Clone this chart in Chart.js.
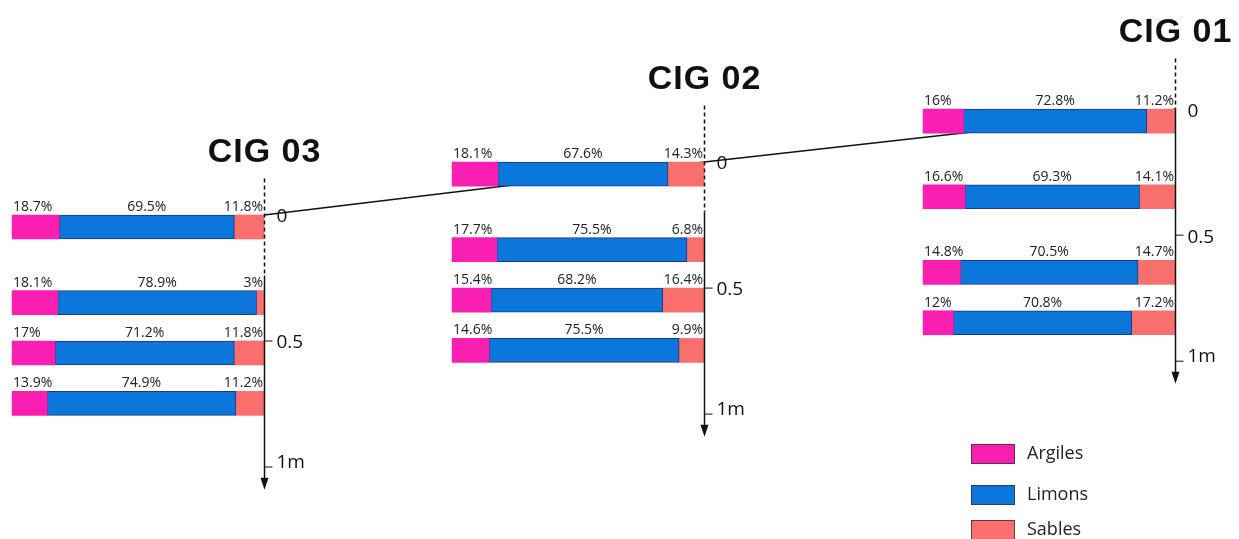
<!DOCTYPE html>
<html lang="fr">
<head>
    <meta charset="UTF-8">
    <title>Granulométrie CIG 01 - 03</title>
    <script src="https://cdn.jsdelivr.net/npm/chart.js"></script>
    <style>
        body {
            margin: 0;
            background: #ffffff;
        }
        .chart-container {
            position: relative;
            width: 1239px;
            height: 539px;
        }
    </style>
</head>
<body>
    <div class="chart-container">
        <canvas id="profileChart" width="1239" height="539"></canvas>
    </div>
    <script>
        // sites, ground surface (relative elevation, m) and sample top depths (m)
        const sites = ['CIG 01', 'CIG 02', 'CIG 03'];
        const surfaceElev = [0.42, 0.21, 0];
        const sampleTop = [
            [0, 0.3, 0.6, 0.8],
            [0, 0.3, 0.5, 0.7],
            [0, 0.3, 0.5, 0.7]
        ];

        // grain size fractions (%) per site, top to bottom
        const argiles = [
            [16, 16.6, 14.8, 12],
            [18.1, 17.7, 15.4, 14.6],
            [18.7, 18.1, 17, 13.9]
        ];
        const limons = [
            [72.8, 69.3, 70.5, 70.8],
            [67.6, 75.5, 68.2, 75.5],
            [69.5, 78.9, 71.2, 74.9]
        ];
        const sables = [
            [11.2, 14.1, 14.7, 17.2],
            [14.3, 6.8, 16.4, 9.9],
            [11.8, 3, 11.8, 11.2]
        ];

        // depth axis ticks
        const depthTicks = [0, 0.5, 1];
        const depthTickLabels = ['0', '0.5', '1m'];

        // layout (not data)
        const PX_PER_M = 252;
        const PX_PER_PCT = 2.52;
        const colStart = [366.3, 179.4, 4.8];     // x position of each column, in % units
        const titleLift = [0.266, 0.29, 0.21];    // title baseline above surface (m)
        const dashBelow = [0, 0.2, 0.24];         // dashed part of axis below surface (m)
        const SAMPLE_H = 0.095;
        const ARROW_DEPTH = 1.09;

        const W = 1239, H = 539;
        const yMax = 215 / PX_PER_M;
        const yMin = yMax - H / PX_PER_M;

        const colors = ['#fb1fb1', '#0b77da', '#f86f6d'];
        const names = ['Argiles', 'Limons', 'Sables'];

        function segments(k) {
            const pts = [];
            sites.forEach((s, c) => {
                sampleTop[c].forEach((d, i) => {
                    const a = argiles[c][i], l = limons[c][i], sa = sables[c][i];
                    const from = [0, a, a + l][k];
                    const val = [a, l, sa][k];
                    pts.push({
                        x: [colStart[c] + from, colStart[c] + from + val],
                        y: surfaceElev[c] - d - SAMPLE_H / 2,
                        v: val
                    });
                });
            });
            return pts;
        }

        const barSets = names.map((n, k) => ({
            label: n,
            data: segments(k),
            backgroundColor: colors[k],
            borderColor: k === 1 ? '#1d3585' : colors[k],
            borderWidth: k === 1 ? 1 : 0,
            borderSkipped: false,
            barThickness: 24,
            grouped: false,
            order: 1
        }));

        const surfaceLine = {
            type: 'line',
            label: 'surface',
            data: sites.map((s, c) => ({ x: colStart[c] + 100, y: surfaceElev[c] })),
            borderColor: '#111',
            borderWidth: 1.5,
            pointRadius: 0,
            fill: false,
            order: 10
        };

        // percentage labels, depth axes, site names
        const overlay = {
            id: 'overlay',
            afterDatasetsDraw(chart) {
                const { ctx, scales: { x, y } } = chart;
                ctx.save();

                ctx.font = '14px "Open Sans"';
                ctx.fillStyle = '#222';
                ctx.textBaseline = 'alphabetic';
                chart.data.datasets.forEach((ds, di) => {
                    if (ds.type === 'line') return;
                    const meta = chart.getDatasetMeta(di);
                    meta.data.forEach((bar, i) => {
                        const p = bar.getProps(['x', 'y', 'base', 'height'], true);
                        const l = Math.min(p.x, p.base), r = Math.max(p.x, p.base);
                        const ty = p.y - p.height / 2 - 4;
                        const txt = ds.data[i].v + '%';
                        if (di === 0) { ctx.textAlign = 'left'; ctx.fillText(txt, l + 1, ty); }
                        else if (di === 1) { ctx.textAlign = 'center'; ctx.fillText(txt, (l + r) / 2, ty); }
                        else { ctx.textAlign = 'right'; ctx.fillText(txt, r - 1, ty); }
                    });
                });

                ctx.strokeStyle = '#111';
                ctx.fillStyle = '#111';
                ctx.lineWidth = 1.5;
                sites.forEach((name, c) => {
                    const ax = Math.round(x.getPixelForValue(colStart[c] + 100)) + 0.5;
                    const py = d => y.getPixelForValue(surfaceElev[c] - d);

                    // dashed part above the surface
                    ctx.setLineDash([4, 3]);
                    ctx.beginPath();
                    ctx.moveTo(ax, py(-(titleLift[c] - 0.065)));
                    ctx.lineTo(ax, py(dashBelow[c]));
                    ctx.stroke();
                    ctx.setLineDash([]);

                    // solid part with arrow
                    const tip = py(ARROW_DEPTH);
                    ctx.beginPath();
                    ctx.moveTo(ax, py(dashBelow[c]));
                    ctx.lineTo(ax, tip - 8);
                    ctx.stroke();
                    ctx.beginPath();
                    ctx.moveTo(ax - 4, tip - 12);
                    ctx.lineTo(ax + 4, tip - 12);
                    ctx.lineTo(ax, tip);
                    ctx.closePath();
                    ctx.fill();

                    // ticks
                    ctx.font = '19px "Open Sans"';
                    ctx.textAlign = 'left';
                    depthTicks.forEach((t, k) => {
                        const ty = py(t);
                        if (t > 0) {
                            ctx.lineWidth = 1;
                            ctx.beginPath();
                            ctx.moveTo(ax, ty);
                            ctx.lineTo(ax + 8, ty);
                            ctx.stroke();
                            ctx.lineWidth = 1.5;
                        }
                        if (t === 1) {
                            ctx.textBaseline = 'alphabetic';
                            ctx.fillText(depthTickLabels[k], ax + 12, ty + 1);
                        } else {
                            ctx.textBaseline = 'middle';
                            ctx.fillText(depthTickLabels[k], ax + 12, ty + 2);
                        }
                    });

                    // site name
                    ctx.font = 'bold 34px "Liberation Sans"';
                    ctx.letterSpacing = '1px';
                    ctx.textAlign = 'center';
                    ctx.textBaseline = 'alphabetic';
                    ctx.fillText(name, ax, py(-titleLift[c]));
                    ctx.letterSpacing = '0px';
                });

                // legend
                const lx = 971, ly = [444, 485, 520];
                ctx.font = '18px "Open Sans"';
                ctx.textAlign = 'left';
                ctx.textBaseline = 'middle';
                names.forEach((n, k) => {
                    ctx.fillStyle = colors[k];
                    ctx.fillRect(lx, ly[k], 44, 20);
                    ctx.strokeStyle = '#333';
                    ctx.lineWidth = 0.8;
                    ctx.strokeRect(lx + 0.5, ly[k] + 0.5, 43, 19);
                    ctx.fillStyle = '#222';
                    ctx.fillText(n, lx + 56, ly[k] + 10);
                });

                ctx.restore();
            }
        };

        new Chart(document.getElementById('profileChart'), {
            type: 'bar',
            data: { datasets: [...barSets, surfaceLine] },
            options: {
                indexAxis: 'y',
                responsive: false,
                animation: false,
                events: [],
                layout: { padding: 0 },
                scales: {
                    x: { type: 'linear', min: 0, max: W / PX_PER_PCT, offset: false, display: false },
                    y: { type: 'linear', min: yMin, max: yMax, offset: false, display: false }
                },
                plugins: {
                    legend: { display: false },
                    tooltip: { enabled: false }
                }
            },
            plugins: [overlay]
        });
    </script>
</body>
</html>
